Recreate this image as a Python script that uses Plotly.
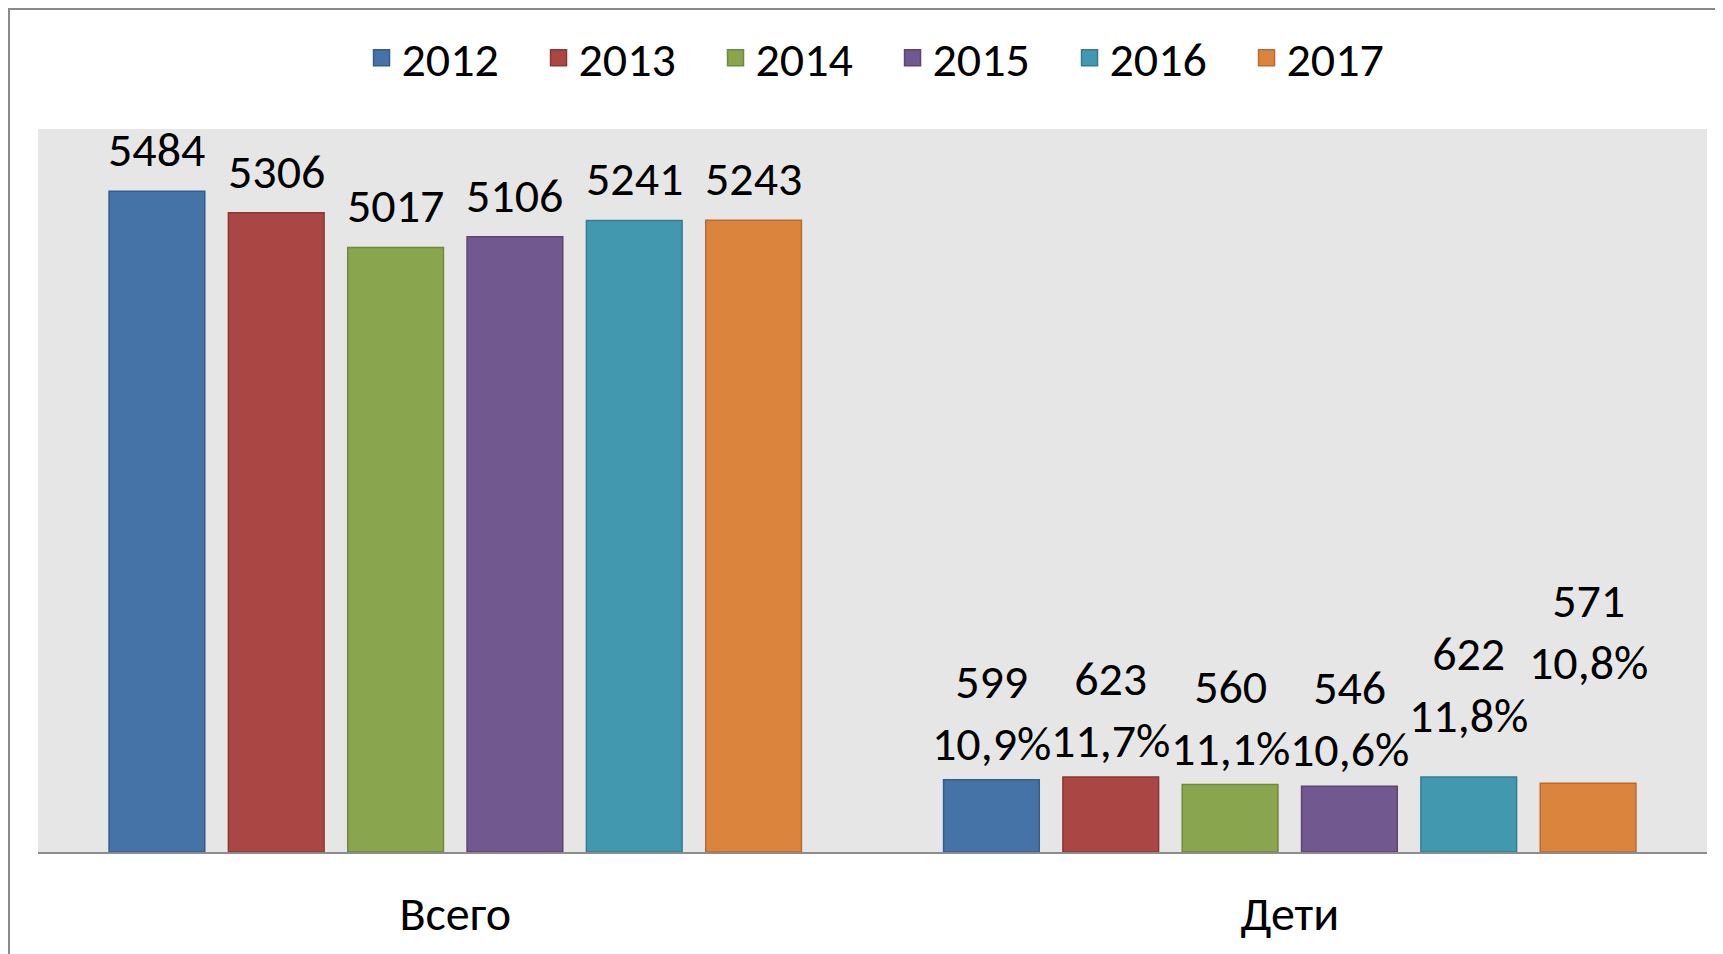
import plotly.graph_objects as go

categories = ['Всего', 'Дети']
years = ['2012', '2013', '2014', '2015', '2016', '2017']
total = [5484, 5306, 5017, 5106, 5241, 5243]
children = [599, 623, 560, 546, 622, 571]
children_share = ['10,9%', '11,7%', '11,1%', '10,6%', '11,8%', '10,8%']

fill_colors = ['#4572A7', '#AA4643', '#89A54E', '#71588F', '#4198AF', '#DB843D']
line_colors = ['#365c8a', '#8c3735', '#6f8a3c', '#5a4573', '#347d90', '#b96c2f']

# vertical lift (px) of the data labels above the bars
lift_total = [10, 10, 10, 10, 10, 10]
lift_children = [5, 5, 5, 5, 30, 89]

FONT = 'Calibri, Carlito, Lato, sans-serif'
FS = 48
BARGAP = 0.142
GROUPGAP = 0.198
YMAX = 6000

fig = go.Figure()
for i, yr in enumerate(years):
    fig.add_trace(go.Bar(
        x=categories, y=[total[i], children[i]], name=yr,
        marker=dict(color=fill_colors[i], line=dict(color=line_colors[i], width=1.5)),
        showlegend=False, hoverinfo='skip'))
for i, yr in enumerate(years):
    fig.add_trace(go.Scatter(
        x=[None], y=[None], mode='markers', name=yr,
        marker=dict(symbol='square', size=16, color=fill_colors[i],
                    line=dict(color=line_colors[i], width=1.5)),
        showlegend=True))

slot = (1 - BARGAP) / len(years)
annotations = []
for j in range(len(years)):
    off = (j - (len(years) - 1) / 2) * slot
    annotations.append(dict(x=0 + off, y=total[j], xref='x', yref='y',
                            text=str(total[j]), showarrow=False,
                            yanchor='bottom', yshift=lift_total[j],
                            font=dict(family=FONT, size=FS, color='black')))
    annotations.append(dict(x=1 + off, y=children[j], xref='x', yref='y',
                            text=f'{children[j]}<br>{children_share[j]}', showarrow=False,
                            yanchor='bottom', yshift=lift_children[j],
                            font=dict(family=FONT, size=FS, color='black')))

W, H = 1723, 954
OFF = 8  # page offset of the figure
ml, mr, mt, mb = 38 - OFF, 16 + OFF, 129 - OFF, 102 + OFF
pw, ph = W - ml - mr, H - mt - mb

shapes = [
    # white chart frame
    dict(type='rect', xref='paper', yref='paper', layer='below',
         x0=(9 - OFF - ml) / pw, x1=1.1, y0=-0.3, y1=1 + (mt - (9 - OFF)) / ph,
         fillcolor='white', line=dict(color='#8a8a8a', width=2)),
    # plot area
    dict(type='rect', xref='paper', yref='paper', layer='below',
         x0=0, x1=1, y0=0, y1=1, fillcolor='#e6e6e6', line=dict(width=0)),
]

fig.update_layout(
    width=W, height=H,
    margin=dict(l=ml, r=mr, t=mt, b=mb),
    paper_bgcolor='#e3eaf3', plot_bgcolor='#e6e6e6',
    barmode='group', bargap=BARGAP, bargroupgap=GROUPGAP,
    font=dict(family=FONT, size=FS, color='black'),
    legend=dict(orientation='h', x=0.512, xanchor='center', y=1 + (mt - (58 - OFF)) / ph,
                yanchor='middle', font=dict(family=FONT, size=FS, color='black'),
                bgcolor='rgba(0,0,0,0)', entrywidth=132, entrywidthmode='pixels'),
    xaxis=dict(type='category', showline=True, linecolor='#8c8c8c', linewidth=2,
               showgrid=False, ticks='', tickfont=dict(family=FONT, size=FS),
               ticklabelstandoff=18),
    yaxis=dict(range=[0, YMAX], visible=False, showgrid=False),
    shapes=shapes, annotations=annotations,
)

fig.write_html('out.html')
